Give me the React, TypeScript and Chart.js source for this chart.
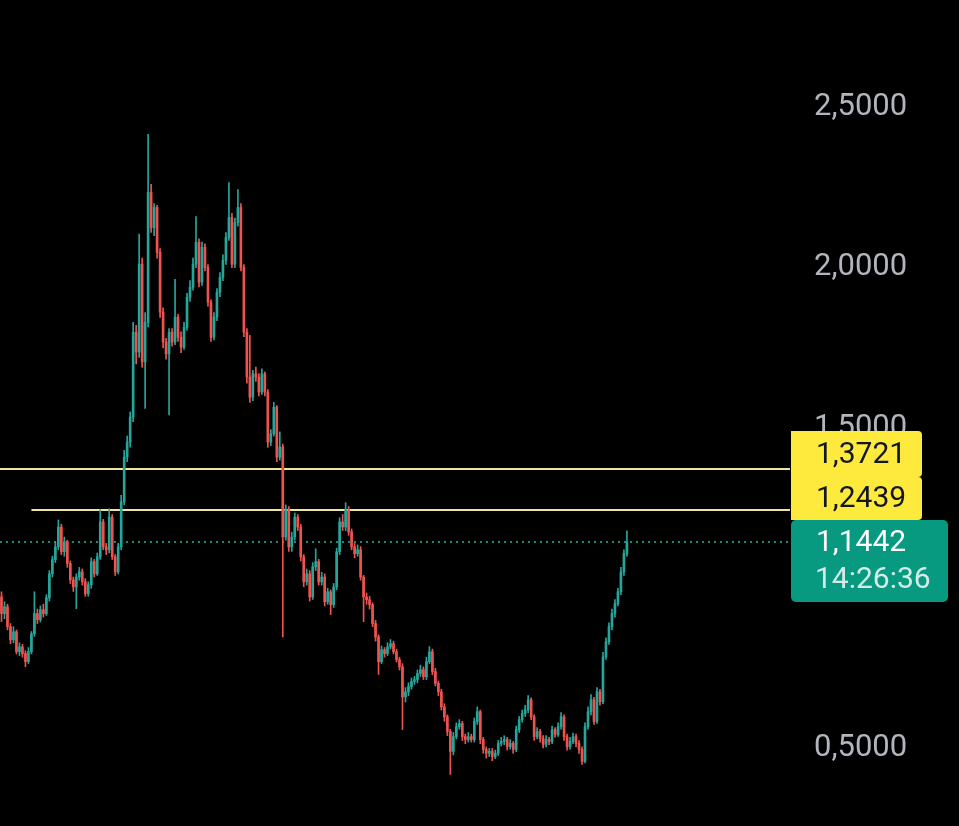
import { useEffect, useRef } from "react";
import { Chart, registerables } from "chart.js";

Chart.register(...registerables);

// ---- data ----
const firstOpen = 0.973;
const closes = [
  0.921, 0.942, 0.880, 0.839, 0.864, 0.802, 0.817, 0.796, 0.771, 0.802,
  0.858, 0.921, 0.902, 0.933, 0.921, 0.970, 1.045, 1.089, 1.129, 1.191,
  1.114, 1.145, 1.077, 1.026, 1.004, 1.035, 1.051, 1.020, 0.983, 1.011,
  1.083, 1.045, 1.098, 1.207, 1.129, 1.120, 1.222, 1.098, 1.051, 1.129,
  1.270, 1.409, 1.456, 1.534, 1.799, 1.737, 2.011, 1.706, 1.830, 2.235,
  2.125, 2.188, 2.048, 1.862, 1.768, 1.731, 1.799, 1.768, 1.846, 1.783,
  1.752, 1.814, 1.908, 1.939, 2.011, 2.079, 1.955, 2.064, 2.001, 1.893,
  1.783, 1.846, 1.924, 1.970, 2.023, 2.094, 2.157, 2.011, 2.141, 2.188,
  2.001, 1.799, 1.659, 1.596, 1.669, 1.659, 1.612, 1.669, 1.612, 1.456,
  1.482, 1.565, 1.409, 1.441, 1.160, 1.245, 1.129, 1.160, 1.222, 1.191,
  1.098, 1.020, 1.045, 0.973, 1.067, 1.083, 1.020, 1.035, 0.958, 0.989,
  0.949, 1.004, 1.114, 1.207, 1.191, 1.245, 1.176, 1.129, 1.108, 1.120,
  1.035, 0.973, 0.964, 0.949, 0.890, 0.848, 0.771, 0.808, 0.796, 0.817,
  0.827, 0.802, 0.777, 0.755, 0.661, 0.677, 0.693, 0.709, 0.715, 0.734,
  0.746, 0.724, 0.771, 0.802, 0.740, 0.703, 0.677, 0.630, 0.599, 0.553,
  0.491, 0.537, 0.568, 0.578, 0.537, 0.528, 0.537, 0.528, 0.584, 0.615,
  0.528, 0.497, 0.485, 0.491, 0.475, 0.485, 0.516, 0.522, 0.528, 0.506,
  0.516, 0.497, 0.559, 0.590, 0.609, 0.621, 0.652, 0.599, 0.537, 0.553,
  0.531, 0.513, 0.528, 0.522, 0.559, 0.544, 0.568, 0.599, 0.537, 0.506,
  0.522, 0.537, 0.516, 0.497, 0.460, 0.568, 0.615, 0.652, 0.584, 0.677,
  0.646, 0.786, 0.833, 0.880, 0.921, 0.952, 0.989, 1.051, 1.108, 1.1442,
];
const highs = [
  0.989, 0.958, 0.950, 0.890, 0.880, 0.870, 0.830, 0.825, 0.805, 0.815,
  0.865, 0.989, 0.935, 0.945, 0.950, 0.980, 1.055, 1.100, 1.145, 1.213,
  1.200, 1.160, 1.150, 1.085, 1.035, 1.045, 1.065, 1.060, 1.030, 1.020,
  1.095, 1.090, 1.110, 1.245, 1.215, 1.140, 1.248, 1.230, 1.105, 1.140,
  1.290, 1.430, 1.475, 1.550, 1.830, 1.820, 2.105, 2.030, 1.860, 2.416,
  2.260, 2.200, 2.195, 2.060, 1.875, 1.780, 1.810, 1.810, 1.964, 1.855,
  1.800, 1.830, 1.920, 1.960, 2.030, 2.160, 2.090, 2.080, 2.075, 2.010,
  1.900, 1.860, 1.935, 1.985, 2.040, 2.110, 2.266, 2.170, 2.155, 2.244,
  2.200, 2.010, 1.810, 1.789, 1.680, 1.690, 1.670, 1.685, 1.675, 1.620,
  1.495, 1.580, 1.570, 1.488, 1.450, 1.260, 1.255, 1.175, 1.235, 1.230,
  1.200, 1.105, 1.060, 1.055, 1.080, 1.123, 1.090, 1.050, 1.045, 1.000,
  0.995, 1.015, 1.125, 1.220, 1.230, 1.267, 1.255, 1.185, 1.140, 1.135,
  1.130, 1.040, 0.985, 0.975, 0.955, 0.900, 0.855, 0.820, 0.815, 0.830,
  0.840, 0.835, 0.810, 0.785, 0.765, 0.690, 0.705, 0.720, 0.725, 0.745,
  0.760, 0.755, 0.785, 0.818, 0.810, 0.750, 0.710, 0.685, 0.640, 0.605,
  0.560, 0.550, 0.580, 0.590, 0.585, 0.545, 0.550, 0.545, 0.595, 0.630,
  0.620, 0.535, 0.505, 0.500, 0.500, 0.495, 0.525, 0.535, 0.540, 0.535,
  0.528, 0.522, 0.570, 0.600, 0.620, 0.635, 0.665, 0.658, 0.605, 0.565,
  0.560, 0.540, 0.540, 0.535, 0.570, 0.565, 0.580, 0.612, 0.605, 0.545,
  0.535, 0.548, 0.545, 0.525, 0.505, 0.580, 0.630, 0.668, 0.660, 0.690,
  0.685, 0.800, 0.845, 0.892, 0.935, 0.965, 1.000, 1.065, 1.120, 1.179,
];
const lows = [
  0.896, 0.905, 0.870, 0.827, 0.830, 0.795, 0.790, 0.785, 0.755, 0.765,
  0.795, 0.850, 0.890, 0.895, 0.910, 0.915, 0.960, 1.035, 1.080, 1.120,
  1.105, 1.100, 1.065, 1.015, 0.990, 0.936, 1.025, 1.010, 0.975, 0.975,
  1.000, 1.035, 1.040, 1.090, 1.120, 1.105, 1.110, 1.090, 1.040, 1.045,
  1.120, 1.260, 1.395, 1.440, 1.520, 1.700, 1.720, 1.690, 1.561, 1.815,
  2.110, 2.100, 2.030, 1.845, 1.750, 1.715, 1.541, 1.755, 1.760, 1.770,
  1.735, 1.745, 1.805, 1.895, 1.930, 2.000, 1.940, 1.945, 1.990, 1.880,
  1.770, 1.775, 1.835, 1.910, 1.960, 2.010, 2.085, 2.000, 2.000, 2.130,
  1.990, 1.785, 1.640, 1.580, 1.585, 1.645, 1.600, 1.605, 1.600, 1.440,
  1.445, 1.475, 1.395, 1.400, 0.848, 1.150, 1.115, 1.115, 1.150, 1.180,
  1.085, 1.005, 1.010, 0.960, 0.965, 1.055, 1.010, 1.010, 0.945, 0.950,
  0.918, 0.940, 0.995, 1.105, 1.180, 1.180, 1.165, 1.120, 1.095, 1.100,
  1.025, 0.896, 0.950, 0.935, 0.880, 0.835, 0.731, 0.765, 0.785, 0.790,
  0.810, 0.795, 0.770, 0.745, 0.559, 0.645, 0.665, 0.685, 0.700, 0.705,
  0.725, 0.715, 0.715, 0.765, 0.730, 0.695, 0.665, 0.620, 0.585, 0.540,
  0.419, 0.480, 0.530, 0.560, 0.525, 0.515, 0.520, 0.520, 0.520, 0.575,
  0.515, 0.485, 0.470, 0.475, 0.462, 0.468, 0.478, 0.508, 0.512, 0.495,
  0.498, 0.485, 0.490, 0.550, 0.582, 0.600, 0.612, 0.590, 0.525, 0.530,
  0.520, 0.502, 0.505, 0.512, 0.515, 0.535, 0.538, 0.560, 0.525, 0.495,
  0.498, 0.515, 0.505, 0.485, 0.450, 0.455, 0.560, 0.605, 0.575, 0.578,
  0.635, 0.640, 0.778, 0.825, 0.870, 0.910, 0.945, 0.980, 1.040, 1.100,
];
const totalSlots = 264;
const yTickValues = [0.5, 1.0, 1.5, 2.0, 2.5];
const levelValues = [1.3721, 1.2439];
const levelStartIndex = [0, 10];
const lastPrice = 1.1442;
const lastTime = "14:26:36";
const yMin = 0.2582;
const yMax = 2.8354;

// ---- styles ----
const UP = "#26a69a";
const DOWN = "#ef5350";
const LEVEL_LINE = "#efe3a4";
const YELLOW = "#fdea3c";
const GREEN = "#089981";
const FONT = "Roboto";

const fmt = (v: number) => v.toFixed(4).replace(".", ",");

const overlayPlugin = {
  id: "overlay",
  beforeDatasetsDraw(chart: any) {
    const { ctx, chartArea, scales } = chart;
    const x = scales.x;
    const y = scales.y;
    ctx.save();
    ctx.lineWidth = 2;
    ctx.strokeStyle = LEVEL_LINE;
    levelValues.forEach((v, k) => {
      const py = Math.round(y.getPixelForValue(v));
      const sx = levelStartIndex[k] === 0 ? chartArea.left : x.getPixelForValue(levelStartIndex[k]);
      ctx.beginPath();
      ctx.moveTo(sx, py);
      ctx.lineTo(chartArea.right, py);
      ctx.stroke();
    });
    const pl = Math.round(y.getPixelForValue(lastPrice));
    ctx.setLineDash([2, 4]);
    ctx.strokeStyle = "#1c8a7a";
    ctx.beginPath();
    ctx.moveTo(chartArea.left, pl);
    ctx.lineTo(chartArea.right, pl);
    ctx.stroke();
    ctx.restore();
  },
  afterDraw(chart: any) {
    const { ctx, chartArea, scales } = chart;
    const y = scales.y;
    const py = Math.round(y.getPixelForValue(lastPrice));
    const left = chartArea.right + 1;
    ctx.save();
    ctx.fillStyle = GREEN;
    ctx.beginPath();
    ctx.roundRect(left, py - 22, 948 - left, 82, 5);
    ctx.fill();
    ctx.fillStyle = YELLOW;
    ctx.beginPath();
    ctx.roundRect(left, py - 65, 922 - left, 43, [0, 4, 4, 0]);
    ctx.fill();
    ctx.beginPath();
    ctx.roundRect(left, py - 111, 922 - left, 46, [0, 4, 4, 0]);
    ctx.fill();

    ctx.font = `30px ${FONT}`;
    ctx.textBaseline = "alphabetic";
    ctx.textAlign = "left";
    ctx.fillStyle = "#131722";
    ctx.fillText(fmt(levelValues[0]), 816, py - 79);
    ctx.fillText(fmt(levelValues[1]), 816, py - 35);
    ctx.fillStyle = "#ffffff";
    ctx.fillText(fmt(lastPrice), 816, py + 9);
    ctx.fillStyle = "rgba(255,255,255,0.82)";
    ctx.fillText(lastTime, 815, py + 46);
    ctx.restore();
  },
};

export default function App() {
  const canvasRef = useRef<HTMLCanvasElement | null>(null);

  useEffect(() => {
    document.body.style.background = "#000";
    const canvas = canvasRef.current;
    if (!canvas) return;
    const opens = [firstOpen, ...closes.slice(0, -1)];
    const colors = closes.map((c, i) => (c >= opens[i] ? UP : DOWN));
    const bodies = closes.map((c, i) => [opens[i], c]);
    const wicks = closes.map((_, i) => [lows[i], highs[i]]);
    const labels = Array.from({ length: totalSlots }, (_, i) => String(i));

    const chart = new Chart(canvas, {
      type: "bar",
      data: {
        labels,
        datasets: [
          {
            data: wicks as any,
            backgroundColor: colors,
            barThickness: 1,
            grouped: false,
            order: 2,
          } as any,
          {
            data: bodies as any,
            backgroundColor: colors,
            barThickness: 2,
            minBarLength: 1,
            grouped: false,
            order: 1,
          } as any,
        ],
      },
      options: {
        responsive: false,
        animation: false,
        layout: { padding: 0 },
        plugins: { legend: { display: false }, tooltip: { enabled: false } },
        scales: {
          x: { display: false, offset: true, grid: { display: false } },
          y: {
            position: "right",
            min: yMin,
            max: yMax,
            grid: { display: false, drawTicks: false },
            border: { display: false },
            afterBuildTicks: (s: any) => {
              s.ticks = yTickValues.map((v) => ({ value: v }));
            },
            afterFit: (s: any) => {
              s.width = 169;
              s.paddingTop = 0;
              s.paddingBottom = 0;
            },
            ticks: {
              color: "#b2b5be",
              font: { family: FONT, size: 31 },
              padding: 24,
              callback: (v: any) => fmt(Number(v)),
            },
          } as any,
        },
      },
      plugins: [overlayPlugin],
    });
    return () => chart.destroy();
  }, []);

  return (
    <div style={{ position: "absolute", left: 0, top: 0, width: 959, height: 826, background: "#000" }}>
      <canvas ref={canvasRef} width={959} height={826} style={{ display: "block" }} />
    </div>
  );
}
